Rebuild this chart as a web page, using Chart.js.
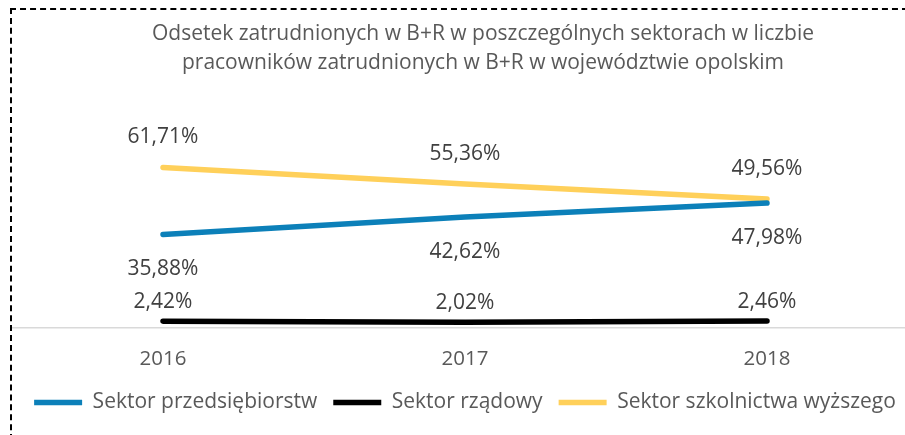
<!DOCTYPE html>
<html>
<head>
<meta charset="utf-8">
<script src="https://cdn.jsdelivr.net/npm/chart.js@4/dist/chart.umd.min.js"></script>
<style>
  html, body { margin: 0; padding: 0; background: #fff; overflow: hidden; }
  #wrap {
    position: absolute; left: 10px; top: 8px; width: 906px; height: 440px;
    border-left: 2px dashed #000; border-top: 2px dashed #000;
  }
</style>
</head>
<body>
<div id="wrap"><canvas id="chart-canvas" width="906" height="430"></canvas></div>
<script>
const years = ["2016", "2017", "2018"];
const przedsiebiorstw = [35.88, 42.62, 47.98];
const rzadowy = [2.42, 2.02, 2.46];
const szkolnictwa = [61.71, 55.36, 49.56];

const fmt = (v) => v.toFixed(2).replace(".", ",") + "%";

// offsets of value labels from their points (negative = above)
const labelOffsets = [35, -19, -30];

const valueLabels = {
  id: "valueLabels",
  afterLayout(chart) {
    // title in the original sits a bit right of the canvas centre
    if (chart.titleBlock) {
      chart.titleBlock.left += 18;
      chart.titleBlock.right += 18;
    }
  },
  afterDatasetsDraw(chart) {
    const ctx = chart.ctx;
    ctx.save();
    ctx.font = "21px 'Open Sans'";
    ctx.fillStyle = "#404040";
    ctx.textAlign = "center";
    ctx.textBaseline = "middle";
    chart.data.datasets.forEach((ds, i) => {
      const meta = chart.getDatasetMeta(i);
      meta.data.forEach((pt, j) => {
        ctx.fillText(fmt(ds.data[j]), pt.x, pt.y + labelOffsets[i]);
      });
    });
    ctx.restore();
  },
};

const ctx = document.getElementById("chart-canvas").getContext("2d");
new Chart(ctx, {
  type: "line",
  data: {
    labels: years,
    datasets: [
      {
        label: "Sektor przedsiębiorstw",
        data: przedsiebiorstw,
        borderColor: "#0C80B9",
        backgroundColor: "#0C80B9",
        borderWidth: 5.5,
        borderCapStyle: "round",
        pointRadius: 0,
      },
      {
        label: "Sektor rządowy",
        data: rzadowy,
        borderColor: "#000000",
        backgroundColor: "#000000",
        borderWidth: 5.5,
        borderCapStyle: "round",
        pointRadius: 0,
      },
      {
        label: "Sektor szkolnictwa wyższego",
        data: szkolnictwa,
        borderColor: "#FFD05A",
        backgroundColor: "#FFD05A",
        borderWidth: 5.5,
        borderCapStyle: "round",
        pointRadius: 0,
      },
    ],
  },
  options: {
    responsive: false,
    animation: false,
    layout: { padding: { left: 0, right: 0, top: 0, bottom: 17 } },
    scales: {
      x: {
        offset: true,
        grid: { display: false, drawTicks: false },
        border: { display: true, color: "#D9D9D9", width: 1.5 },
        ticks: { color: "#595959", font: { family: "Open Sans", size: 20.5 }, padding: 19 },
        afterFit(scale) { scale.height -= 14; },
      },
      y: {
        display: false,
        min: 0,
        max: 70,
      },
    },
    plugins: {
      title: {
        display: true,
        text: [
          "Odsetek zatrudnionych w B+R w poszczególnych sektorach w liczbie",
          "pracowników zatrudnionych w B+R w województwie opolskim",
        ],
        color: "#595959",
        font: { family: "Open Sans", size: 21, weight: "normal", lineHeight: 1.38 },
        padding: { top: 10, bottom: 68 },
      },
      legend: {
        position: "bottom",
        labels: {
          color: "#595959",
          font: { family: "Open Sans", size: 21 },
          usePointStyle: true,
          pointStyle: "line",
          pointStyleWidth: 48,
          boxHeight: 18,
          padding: 16,
        },
      },
      tooltip: { enabled: false },
    },
  },
  plugins: [valueLabels],
});
</script>
</body>
</html>
